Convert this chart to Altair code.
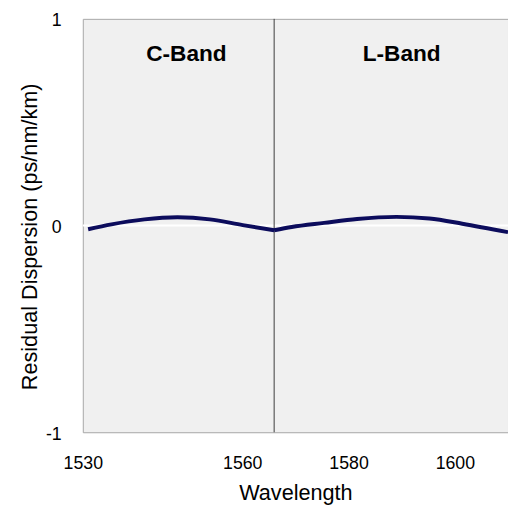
import altair as alt
import pandas as pd

# ---- data ----
c_wavelength = [1531.0, 1535.4, 1541.6, 1547.8, 1553.9, 1560.1, 1566.0]
c_dispersion = [-0.018, 0.006, 0.030, 0.040, 0.030, 0.002, -0.023]
l_wavelength = [1566.0, 1569.3, 1575.4, 1581.6, 1589.0, 1595.2, 1601.4, 1610.0]
l_dispersion = [-0.023, -0.007, 0.013, 0.032, 0.042, 0.034, 0.009, -0.032]

band_names = ["C-Band", "L-Band"]
band_label_x = [1549.5, 1590.0]
band_divider = [1566.0]
zero_line = [0]

x_ticks = [1530, 1560, 1580, 1600]
y_ticks = [-1, 0, 1]
x_domain = [1530, 1610]
y_domain = [-1, 1]

FONT = "Liberation Sans"

curve = pd.DataFrame({
    "wavelength": c_wavelength + l_wavelength,
    "dispersion": c_dispersion + l_dispersion,
    "band": ["C"] * len(c_wavelength) + ["L"] * len(l_wavelength),
})
bands = pd.DataFrame({"name": band_names, "x": band_label_x})
divider = pd.DataFrame({"x": band_divider})
zero = pd.DataFrame({"y": zero_line})

x_scale = alt.Scale(domain=x_domain, nice=False, zero=False)
y_scale = alt.Scale(domain=y_domain, nice=False, zero=False)

x_axis = alt.Axis(
    title="Wavelength", values=x_ticks, labelExpr="'' + datum.value",
    ticks=False, tickSize=0, domain=False, grid=False,
    labelPadding=23, labelFontSize=18, labelFlush=False,
    titleFontSize=22, titleY=68, titleBaseline="alphabetic",
)
y_axis = alt.Axis(
    title="Residual Dispersion (ps/nm/km)", values=y_ticks,
    labelExpr="'' + datum.value",
    ticks=False, tickSize=0, domain=False, grid=False,
    labelPadding=22, labelFontSize=18, labelOffset=2, labelFlush=False,
    titleFontSize=22, titleX=-47, titleY=221, titleBaseline="alphabetic",
)

zero_rule = alt.Chart(zero).mark_rule(color="white", strokeWidth=2).encode(
    y=alt.Y("y:Q", scale=y_scale, axis=y_axis)
)
div_rule = alt.Chart(divider).mark_rule(color="#3a3a3a", strokeWidth=1).encode(
    x=alt.X("x:Q", scale=x_scale, axis=x_axis)
)
line = alt.Chart(curve).mark_line(
    color="#0c0c5c", strokeWidth=4, interpolate="monotone", clip=True
).encode(
    x=alt.X("wavelength:Q", scale=x_scale, axis=x_axis),
    y=alt.Y("dispersion:Q", scale=y_scale, axis=y_axis),
    detail="band:N",
)
labels = alt.Chart(bands).mark_text(
    font=FONT, fontSize=23, fontWeight="bold", color="#000000",
    align="center", baseline="alphabetic"
).encode(
    x=alt.X("x:Q", scale=x_scale, axis=x_axis),
    y=alt.value(43),
    text="name:N",
)

chart = alt.layer(zero_rule, div_rule, line, labels).properties(
    width=432, height=420,
    autosize=alt.AutoSizeParams(type="none"),
    padding={"left": 76, "top": 7, "right": 0, "bottom": 77},
    background="white",
).configure_view(
    fill="#f0f0f0", stroke="#a6a6a6", strokeWidth=1
).configure_axis(
    labelFont=FONT, titleFont=FONT, labelColor="#000000", titleColor="#000000",
    titleFontWeight="normal",
)

chart.save("out.html", embed_options={"renderer": "svg", "actions": False})
